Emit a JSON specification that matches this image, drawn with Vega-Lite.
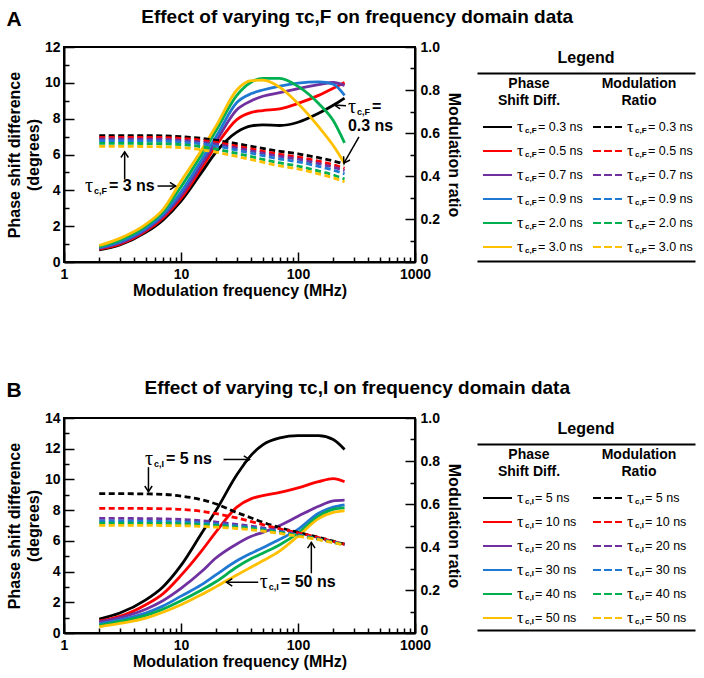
{
  "$schema": "https://vega.github.io/schema/vega-lite/v6.json",
  "padding": {"left": 5, "top": 8, "right": 5, "bottom": 5},
  "config": {
    "font": "Liberation Sans",
    "view": {"stroke": "black", "strokeWidth": 2},
    "axis": {"domainColor": "black", "domainWidth": 2, "tickColor": "black", "tickWidth": 1.5, "labelColor": "black", "labelFont": "Liberation Sans", "labelFontSize": 14, "labelFontWeight": "bold", "titleColor": "black", "titleFont": "Liberation Sans", "titleFontSize": 16, "titleFontWeight": "bold", "grid": false, "labelOverlap": false, "labelFlush": false},
    "title": {"font": "Liberation Sans", "fontWeight": "bold", "color": "black"}
  },
  "datasets": {
    "curvesA": [
      {"tau":"0.3","f":2,"phase":0.68,"mod":0.588},{"tau":"0.3","f":3,"phase":0.95,"mod":0.588},{"tau":"0.3","f":5,"phase":1.65,"mod":0.5875},{"tau":"0.3","f":7,"phase":2.34,"mod":0.587},{"tau":"0.3","f":10,"phase":3.4,"mod":0.583},{"tau":"0.3","f":15,"phase":5.0,"mod":0.575},{"tau":"0.3","f":20,"phase":6.15,"mod":0.566},{"tau":"0.3","f":30,"phase":7.25,"mod":0.55},{"tau":"0.3","f":40,"phase":7.6,"mod":0.538},{"tau":"0.3","f":50,"phase":7.65,"mod":0.528},{"tau":"0.3","f":70,"phase":7.62,"mod":0.515},{"tau":"0.3","f":100,"phase":7.8,"mod":0.503},{"tau":"0.3","f":150,"phase":8.3,"mod":0.485},{"tau":"0.3","f":200,"phase":8.75,"mod":0.47},{"tau":"0.3","f":250,"phase":9.15,"mod":0.455},
      {"tau":"0.5","f":2,"phase":0.72,"mod":0.58},{"tau":"0.5","f":3,"phase":1.0,"mod":0.58},{"tau":"0.5","f":5,"phase":1.72,"mod":0.579},{"tau":"0.5","f":7,"phase":2.45,"mod":0.579},{"tau":"0.5","f":10,"phase":3.55,"mod":0.575},{"tau":"0.5","f":15,"phase":5.25,"mod":0.566},{"tau":"0.5","f":20,"phase":6.5,"mod":0.556},{"tau":"0.5","f":30,"phase":7.95,"mod":0.539},{"tau":"0.5","f":40,"phase":8.35,"mod":0.526},{"tau":"0.5","f":50,"phase":8.45,"mod":0.515},{"tau":"0.5","f":70,"phase":8.55,"mod":0.501},{"tau":"0.5","f":100,"phase":8.85,"mod":0.488},{"tau":"0.5","f":150,"phase":9.3,"mod":0.469},{"tau":"0.5","f":200,"phase":9.7,"mod":0.452},{"tau":"0.5","f":250,"phase":10.02,"mod":0.436},
      {"tau":"0.7","f":2,"phase":0.76,"mod":0.572},{"tau":"0.7","f":3,"phase":1.06,"mod":0.572},{"tau":"0.7","f":5,"phase":1.8,"mod":0.571},{"tau":"0.7","f":7,"phase":2.55,"mod":0.571},{"tau":"0.7","f":10,"phase":3.7,"mod":0.566},{"tau":"0.7","f":15,"phase":5.45,"mod":0.558},{"tau":"0.7","f":20,"phase":6.75,"mod":0.548},{"tau":"0.7","f":30,"phase":8.5,"mod":0.53},{"tau":"0.7","f":40,"phase":9.0,"mod":0.517},{"tau":"0.7","f":50,"phase":9.25,"mod":0.506},{"tau":"0.7","f":70,"phase":9.45,"mod":0.491},{"tau":"0.7","f":100,"phase":9.68,"mod":0.478},{"tau":"0.7","f":150,"phase":9.9,"mod":0.458},{"tau":"0.7","f":200,"phase":10.02,"mod":0.441},{"tau":"0.7","f":250,"phase":9.85,"mod":0.425},
      {"tau":"0.9","f":2,"phase":0.8,"mod":0.564},{"tau":"0.9","f":3,"phase":1.12,"mod":0.564},{"tau":"0.9","f":5,"phase":1.88,"mod":0.563},{"tau":"0.9","f":7,"phase":2.65,"mod":0.562},{"tau":"0.9","f":10,"phase":3.9,"mod":0.558},{"tau":"0.9","f":15,"phase":5.7,"mod":0.549},{"tau":"0.9","f":20,"phase":7.0,"mod":0.539},{"tau":"0.9","f":30,"phase":8.9,"mod":0.52},{"tau":"0.9","f":40,"phase":9.4,"mod":0.506},{"tau":"0.9","f":50,"phase":9.6,"mod":0.495},{"tau":"0.9","f":70,"phase":9.82,"mod":0.479},{"tau":"0.9","f":100,"phase":9.98,"mod":0.466},{"tau":"0.9","f":150,"phase":10.05,"mod":0.445},{"tau":"0.9","f":200,"phase":9.92,"mod":0.427},{"tau":"0.9","f":250,"phase":9.3,"mod":0.41},
      {"tau":"2.0","f":2,"phase":0.86,"mod":0.552},{"tau":"2.0","f":3,"phase":1.22,"mod":0.552},{"tau":"2.0","f":5,"phase":2.0,"mod":0.551},{"tau":"2.0","f":7,"phase":2.8,"mod":0.55},{"tau":"2.0","f":10,"phase":4.2,"mod":0.546},{"tau":"2.0","f":15,"phase":6.0,"mod":0.536},{"tau":"2.0","f":20,"phase":7.35,"mod":0.525},{"tau":"2.0","f":30,"phase":9.3,"mod":0.505},{"tau":"2.0","f":40,"phase":10.05,"mod":0.49},{"tau":"2.0","f":50,"phase":10.25,"mod":0.477},{"tau":"2.0","f":70,"phase":10.25,"mod":0.461},{"tau":"2.0","f":100,"phase":9.8,"mod":0.446},{"tau":"2.0","f":150,"phase":8.85,"mod":0.423},{"tau":"2.0","f":200,"phase":7.9,"mod":0.405},{"tau":"2.0","f":250,"phase":6.65,"mod":0.386},
      {"tau":"3.0","f":2,"phase":0.92,"mod":0.538},{"tau":"3.0","f":3,"phase":1.32,"mod":0.538},{"tau":"3.0","f":5,"phase":2.1,"mod":0.537},{"tau":"3.0","f":7,"phase":2.92,"mod":0.536},{"tau":"3.0","f":10,"phase":4.5,"mod":0.532},{"tau":"3.0","f":15,"phase":6.25,"mod":0.522},{"tau":"3.0","f":20,"phase":7.6,"mod":0.511},{"tau":"3.0","f":30,"phase":9.6,"mod":0.491},{"tau":"3.0","f":40,"phase":10.12,"mod":0.476},{"tau":"3.0","f":50,"phase":10.15,"mod":0.464},{"tau":"3.0","f":70,"phase":9.75,"mod":0.447},{"tau":"3.0","f":100,"phase":8.85,"mod":0.433},{"tau":"3.0","f":150,"phase":7.55,"mod":0.41},{"tau":"3.0","f":200,"phase":6.5,"mod":0.392},{"tau":"3.0","f":250,"phase":5.5,"mod":0.373}
    ],
    "curvesB": [
      {"tau":"5","f":2,"phase":0.91,"mod":0.648},{"tau":"5","f":3,"phase":1.3,"mod":0.648},{"tau":"5","f":5,"phase":2.16,"mod":0.647},{"tau":"5","f":7,"phase":3.0,"mod":0.645},{"tau":"5","f":10,"phase":4.4,"mod":0.637},{"tau":"5","f":15,"phase":6.5,"mod":0.62},{"tau":"5","f":20,"phase":8.0,"mod":0.6},{"tau":"5","f":30,"phase":10.3,"mod":0.56},{"tau":"5","f":40,"phase":11.6,"mod":0.535},{"tau":"5","f":50,"phase":12.25,"mod":0.515},{"tau":"5","f":70,"phase":12.7,"mod":0.49},{"tau":"5","f":100,"phase":12.85,"mod":0.468},{"tau":"5","f":150,"phase":12.85,"mod":0.445},{"tau":"5","f":200,"phase":12.6,"mod":0.427},{"tau":"5","f":250,"phase":11.95,"mod":0.413},
      {"tau":"10","f":2,"phase":0.78,"mod":0.58},{"tau":"10","f":3,"phase":1.08,"mod":0.58},{"tau":"10","f":5,"phase":1.84,"mod":0.579},{"tau":"10","f":7,"phase":2.55,"mod":0.578},{"tau":"10","f":10,"phase":3.75,"mod":0.575},{"tau":"10","f":15,"phase":5.35,"mod":0.566},{"tau":"10","f":20,"phase":6.6,"mod":0.555},{"tau":"10","f":30,"phase":8.2,"mod":0.535},{"tau":"10","f":40,"phase":8.75,"mod":0.518},{"tau":"10","f":50,"phase":8.95,"mod":0.504},{"tau":"10","f":70,"phase":9.15,"mod":0.484},{"tau":"10","f":100,"phase":9.45,"mod":0.466},{"tau":"10","f":150,"phase":9.85,"mod":0.444},{"tau":"10","f":200,"phase":10.05,"mod":0.426},{"tau":"10","f":250,"phase":9.85,"mod":0.413},
      {"tau":"20","f":2,"phase":0.72,"mod":0.533},{"tau":"20","f":3,"phase":1.0,"mod":0.533},{"tau":"20","f":5,"phase":1.55,"mod":0.532},{"tau":"20","f":7,"phase":2.1,"mod":0.531},{"tau":"20","f":10,"phase":2.9,"mod":0.528},{"tau":"20","f":15,"phase":4.0,"mod":0.522},{"tau":"20","f":20,"phase":4.9,"mod":0.516},{"tau":"20","f":30,"phase":5.8,"mod":0.505},{"tau":"20","f":40,"phase":6.3,"mod":0.497},{"tau":"20","f":50,"phase":6.55,"mod":0.489},{"tau":"20","f":70,"phase":7.0,"mod":0.474},{"tau":"20","f":100,"phase":7.6,"mod":0.458},{"tau":"20","f":150,"phase":8.25,"mod":0.438},{"tau":"20","f":200,"phase":8.6,"mod":0.423},{"tau":"20","f":250,"phase":8.65,"mod":0.411},
      {"tau":"30","f":2,"phase":0.6,"mod":0.521},{"tau":"30","f":3,"phase":0.85,"mod":0.521},{"tau":"30","f":5,"phase":1.3,"mod":0.52},{"tau":"30","f":7,"phase":1.75,"mod":0.519},{"tau":"30","f":10,"phase":2.4,"mod":0.517},{"tau":"30","f":15,"phase":3.15,"mod":0.512},{"tau":"30","f":20,"phase":3.8,"mod":0.507},{"tau":"30","f":30,"phase":4.7,"mod":0.498},{"tau":"30","f":40,"phase":5.2,"mod":0.491},{"tau":"30","f":50,"phase":5.55,"mod":0.484},{"tau":"30","f":70,"phase":6.1,"mod":0.47},{"tau":"30","f":100,"phase":6.75,"mod":0.455},{"tau":"30","f":150,"phase":7.8,"mod":0.437},{"tau":"30","f":200,"phase":8.2,"mod":0.422},{"tau":"30","f":250,"phase":8.35,"mod":0.411},
      {"tau":"40","f":2,"phase":0.5,"mod":0.511},{"tau":"40","f":3,"phase":0.75,"mod":0.511},{"tau":"40","f":5,"phase":1.15,"mod":0.51},{"tau":"40","f":7,"phase":1.55,"mod":0.51},{"tau":"40","f":10,"phase":2.1,"mod":0.508},{"tau":"40","f":15,"phase":2.8,"mod":0.504},{"tau":"40","f":20,"phase":3.35,"mod":0.5},{"tau":"40","f":30,"phase":4.3,"mod":0.492},{"tau":"40","f":40,"phase":4.85,"mod":0.486},{"tau":"40","f":50,"phase":5.2,"mod":0.479},{"tau":"40","f":70,"phase":5.75,"mod":0.467},{"tau":"40","f":100,"phase":6.5,"mod":0.453},{"tau":"40","f":150,"phase":7.6,"mod":0.436},{"tau":"40","f":200,"phase":8.05,"mod":0.421},{"tau":"40","f":250,"phase":8.15,"mod":0.41},
      {"tau":"50","f":2,"phase":0.4,"mod":0.501},{"tau":"50","f":3,"phase":0.62,"mod":0.501},{"tau":"50","f":5,"phase":0.97,"mod":0.501},{"tau":"50","f":7,"phase":1.35,"mod":0.5},{"tau":"50","f":10,"phase":1.84,"mod":0.499},{"tau":"50","f":15,"phase":2.5,"mod":0.496},{"tau":"50","f":20,"phase":3.02,"mod":0.492},{"tau":"50","f":30,"phase":3.78,"mod":0.486},{"tau":"50","f":40,"phase":4.3,"mod":0.48},{"tau":"50","f":50,"phase":4.7,"mod":0.474},{"tau":"50","f":70,"phase":5.35,"mod":0.463},{"tau":"50","f":100,"phase":6.3,"mod":0.45},{"tau":"50","f":150,"phase":7.45,"mod":0.434},{"tau":"50","f":200,"phase":7.85,"mod":0.42},{"tau":"50","f":250,"phase":7.95,"mod":0.409}
    ],
    "annot": [
      {"panel":"A","f":1.51,"y":4.24,"tau":"τ","sub":"c,F","rest":"= 3 ns"},
      {"panel":"A","f":267,"y":8.65,"tau":"τ","sub":"c,F","rest":"="},
      {"panel":"A","f":267,"y":7.6,"plain":"0.3 ns"},
      {"panel":"B","f":4.93,"y":11.34,"tau":"τ","sub":"c,I","rest":"= 5 ns"},
      {"panel":"B","f":47.2,"y":3.3,"tau":"τ","sub":"c,I","rest":"= 50 ns"}
    ],
    "arrows": [
      {"panel":"A","f1":6.3,"y1":4.24,"f2":9.0,"y2":4.24,"dir":"right"},
      {"panel":"A","f1":3.3,"y1":4.6,"f2":3.3,"y2":6.15,"dir":"up"},
      {"panel":"A","f1":257,"y1":8.72,"f2":205,"y2":8.76,"dir":"left"},
      {"panel":"A","f1":332,"y1":6.98,"f2":247,"y2":5.52,"dir":"downleft"},
      {"panel":"B","f1":23.1,"y1":11.3,"f2":38.5,"y2":11.3,"dir":"right"},
      {"panel":"B","f1":5.27,"y1":10.8,"f2":5.27,"y2":9.2,"dir":"down"},
      {"panel":"B","f1":45.7,"y1":3.3,"f2":24.5,"y2":3.3,"dir":"left"},
      {"panel":"B","f1":130,"y1":3.89,"f2":130,"y2":5.9,"dir":"up"}
    ],
    "legHead": [
      {"col":0,"row":-0.79,"head":["Phase","Shift Diff."]},
      {"col":1,"row":-0.79,"head":["Modulation","Ratio"]}
    ],
    "legA": [
      {"tau":"0.3","col":0,"row":1,"label":"= 0.3 ns"},{"tau":"0.3","col":1,"row":1,"label":"= 0.3 ns"},
      {"tau":"0.5","col":0,"row":2,"label":"= 0.5 ns"},{"tau":"0.5","col":1,"row":2,"label":"= 0.5 ns"},
      {"tau":"0.7","col":0,"row":3,"label":"= 0.7 ns"},{"tau":"0.7","col":1,"row":3,"label":"= 0.7 ns"},
      {"tau":"0.9","col":0,"row":4,"label":"= 0.9 ns"},{"tau":"0.9","col":1,"row":4,"label":"= 0.9 ns"},
      {"tau":"2.0","col":0,"row":5,"label":"= 2.0 ns"},{"tau":"2.0","col":1,"row":5,"label":"= 2.0 ns"},
      {"tau":"3.0","col":0,"row":6,"label":"= 3.0 ns"},{"tau":"3.0","col":1,"row":6,"label":"= 3.0 ns"}
    ],
    "legB": [
      {"tau":"5","col":0,"row":1,"label":"= 5 ns"},{"tau":"5","col":1,"row":1,"label":"= 5 ns"},
      {"tau":"10","col":0,"row":2,"label":"= 10 ns"},{"tau":"10","col":1,"row":2,"label":"= 10 ns"},
      {"tau":"20","col":0,"row":3,"label":"= 20 ns"},{"tau":"20","col":1,"row":3,"label":"= 20 ns"},
      {"tau":"30","col":0,"row":4,"label":"= 30 ns"},{"tau":"30","col":1,"row":4,"label":"= 30 ns"},
      {"tau":"40","col":0,"row":5,"label":"= 40 ns"},{"tau":"40","col":1,"row":5,"label":"= 40 ns"},
      {"tau":"50","col":0,"row":6,"label":"= 50 ns"},{"tau":"50","col":1,"row":6,"label":"= 50 ns"}
    ]
  },
  "resolve": {"scale": {"color": "independent"}},
  "spacing": 80,
  "vconcat": [
    {
      "title": {"text": "Effect of varying τc,F on frequency domain data", "fontSize": 19, "anchor": "middle", "offset": 0, "dx": 7, "dy": 19},
      "spacing": 14,
      "hconcat": [
        {
          "width": 351, "height": 215,
          "title": {"text": "A", "anchor": "start", "fontSize": 21, "offset": 10},
          "layer": [
            {
              "data": {"name": "curvesA"},
              "mark": {"type": "line", "strokeWidth": 2.8, "interpolate": "monotone"},
              "encoding": {
                "x": {"field": "f", "type": "quantitative", "scale": {"type": "log", "domain": [1, 1000]},
                  "axis": {"values": [1,2,3,4,5,6,7,8,9,10,20,30,40,50,60,70,80,90,100,200,300,400,500,600,700,800,900,1000],
                    "labelExpr": "indexof([1,10,100,1000], datum.value) >= 0 ? format(datum.value, 'd') : ''",
                    "tickSize": {"condition": {"test": "indexof([1,10,100,1000], datum.value) >= 0", "value": -10}, "value": -5},
                    "labelPadding": 15, "title": "Modulation frequency (MHz)", "titlePadding": -4}},
                "y": {"field": "phase", "type": "quantitative", "scale": {"domain": [0, 12]},
                  "axis": {"values": [0,1,2,3,4,5,6,7,8,9,10,11,12],
                    "labelExpr": "datum.value % 2 == 0 ? datum.label : ''",
                    "tickSize": {"condition": {"test": "datum.value % 2 == 0", "value": -10}, "value": -5},
                    "labelPadding": 14, "title": ["Phase shift difference", "(degrees)"], "titlePadding": 3, "titleLineHeight": 19}},
                "color": {"field": "tau", "type": "nominal", "scale": {"domain": ["0.3","0.5","0.7","0.9","2.0","3.0"], "range": ["#000000","#ff0000","#7030a0","#1f78d2","#00b050","#ffc000"]}, "legend": null}
              }
            },
            {
              "data": {"name": "curvesA"},
              "mark": {"type": "line", "strokeWidth": 2.8, "strokeDash": [6, 3.5], "interpolate": "monotone"},
              "encoding": {
                "x": {"field": "f", "type": "quantitative", "scale": {"type": "log", "domain": [1, 1000]}},
                "y": {"field": "mod", "type": "quantitative", "scale": {"domain": [0, 1]},
                  "axis": {"orient": "right", "values": [0,0.1,0.2,0.3,0.4,0.5,0.6,0.7,0.8,0.9,1.0],
                    "labelExpr": "datum.value == 0 ? '0' : (round(datum.value*10) % 2 == 0 ? format(datum.value, '.1f') : '')",
                    "tickSize": {"condition": {"test": "round(datum.value*10) % 2 == 0", "value": -10}, "value": -5},
                    "labelOffset": {"condition": {"test": "datum.value == 0", "value": -3}, "value": 0},
                    "labelPadding": 15, "title": "Modulation ratio", "titlePadding": 6}},
                "color": {"field": "tau", "type": "nominal", "scale": {"domain": ["0.3","0.5","0.7","0.9","2.0","3.0"], "range": ["#000000","#ff0000","#7030a0","#1f78d2","#00b050","#ffc000"]}, "legend": null}
              }
            },
            {
              "data": {"name": "arrows"},
              "transform": [{"filter": "datum.panel == 'A'"}],
              "mark": {"type": "rule", "strokeWidth": 1.5, "color": "black"},
              "encoding": {
                "x": {"field": "f1", "type": "quantitative", "scale": {"type": "log", "domain": [1, 1000]}},
                "x2": {"field": "f2"},
                "y": {"field": "y1", "type": "quantitative", "scale": {"domain": [0, 12]}, "axis": null},
                "y2": {"field": "y2"}
              }
            },
            {
              "data": {"name": "arrows"},
              "transform": [{"filter": "datum.panel == 'A' && datum.dir == 'right'"}],
              "mark": {"type": "point", "shape": "M-1,-0.65L0,0L-1,0.65", "filled": false, "stroke": "black", "strokeWidth": 1.5, "size": 130, "angle": 0, "opacity": 1},
              "encoding": {"x": {"field": "f2", "type": "quantitative", "scale": {"type": "log", "domain": [1, 1000]}}, "y": {"field": "y2", "type": "quantitative", "scale": {"domain": [0, 12]}, "axis": null}}
            },
            {
              "data": {"name": "arrows"},
              "transform": [{"filter": "datum.panel == 'A' && datum.dir == 'up'"}],
              "mark": {"type": "point", "shape": "M-1,-0.65L0,0L-1,0.65", "filled": false, "stroke": "black", "strokeWidth": 1.5, "size": 130, "angle": 270, "opacity": 1},
              "encoding": {"x": {"field": "f2", "type": "quantitative", "scale": {"type": "log", "domain": [1, 1000]}}, "y": {"field": "y2", "type": "quantitative", "scale": {"domain": [0, 12]}, "axis": null}}
            },
            {
              "data": {"name": "arrows"},
              "transform": [{"filter": "datum.panel == 'A' && datum.dir == 'left'"}],
              "mark": {"type": "point", "shape": "M-1,-0.65L0,0L-1,0.65", "filled": false, "stroke": "black", "strokeWidth": 1.5, "size": 130, "angle": 180, "opacity": 1},
              "encoding": {"x": {"field": "f2", "type": "quantitative", "scale": {"type": "log", "domain": [1, 1000]}}, "y": {"field": "y2", "type": "quantitative", "scale": {"domain": [0, 12]}, "axis": null}}
            },
            {
              "data": {"name": "arrows"},
              "transform": [{"filter": "datum.panel == 'A' && datum.dir == 'downleft'"}],
              "mark": {"type": "point", "shape": "M-1,-0.65L0,0L-1,0.65", "filled": false, "stroke": "black", "strokeWidth": 1.5, "size": 130, "angle": 120, "opacity": 1},
              "encoding": {"x": {"field": "f2", "type": "quantitative", "scale": {"type": "log", "domain": [1, 1000]}}, "y": {"field": "y2", "type": "quantitative", "scale": {"domain": [0, 12]}, "axis": null}}
            },
            {
              "data": {"name": "annot"},
              "transform": [{"filter": "datum.panel == 'A' && isValid(datum.tau)"}],
              "mark": {"type": "text", "font": "Liberation Serif", "fontSize": 20, "align": "left", "baseline": "middle", "color": "black"},
              "encoding": {"x": {"field": "f", "type": "quantitative", "scale": {"type": "log", "domain": [1, 1000]}}, "y": {"field": "y", "type": "quantitative", "scale": {"domain": [0, 12]}, "axis": null}, "text": {"field": "tau"}}
            },
            {
              "data": {"name": "annot"},
              "transform": [{"filter": "datum.panel == 'A' && isValid(datum.sub)"}],
              "mark": {"type": "text", "fontSize": 9, "fontWeight": "bold", "align": "left", "baseline": "middle", "dx": 9, "dy": 5, "color": "black"},
              "encoding": {"x": {"field": "f", "type": "quantitative", "scale": {"type": "log", "domain": [1, 1000]}}, "y": {"field": "y", "type": "quantitative", "scale": {"domain": [0, 12]}, "axis": null}, "text": {"field": "sub"}}
            },
            {
              "data": {"name": "annot"},
              "transform": [{"filter": "datum.panel == 'A' && isValid(datum.rest)"}],
              "mark": {"type": "text", "fontSize": 16, "fontWeight": "bold", "align": "left", "baseline": "middle", "dx": 24, "color": "black"},
              "encoding": {"x": {"field": "f", "type": "quantitative", "scale": {"type": "log", "domain": [1, 1000]}}, "y": {"field": "y", "type": "quantitative", "scale": {"domain": [0, 12]}, "axis": null}, "text": {"field": "rest"}}
            },
            {
              "data": {"name": "annot"},
              "transform": [{"filter": "datum.panel == 'A' && isValid(datum.plain)"}],
              "mark": {"type": "text", "fontSize": 16, "fontWeight": "bold", "align": "left", "baseline": "middle", "color": "black"},
              "encoding": {"x": {"field": "f", "type": "quantitative", "scale": {"type": "log", "domain": [1, 1000]}}, "y": {"field": "y", "type": "quantitative", "scale": {"domain": [0, 12]}, "axis": null}, "text": {"field": "plain"}}
            }
          ],
          "resolve": {"scale": {"y": "independent"}}
        },
        {
          "width": 218, "height": 215,
          "view": {"stroke": null},
          "title": {"text": "Legend", "fontSize": 16, "offset": -19},
          "layer": [
            {
              "data": {"name": "legA"},
              "transform": [{"filter": "datum.col == 0"}],
              "mark": {"type": "rule", "strokeWidth": 2, "x2Offset": 29},
              "encoding": {
                "x": {"field": "col", "type": "quantitative", "scale": {"domain": [-0.0545, 1.9273]}, "axis": {"orient": "top", "offset": -26, "domain": true, "ticks": false, "labels": false, "title": null}},
                "x2": {"field": "col"},
                "y": {"field": "row", "type": "quantitative", "scale": {"domain": [-2.333, 6.625], "reverse": true}, "axis": null},
                "color": {"field": "tau", "type": "nominal", "scale": {"domain": ["0.3","0.5","0.7","0.9","2.0","3.0"], "range": ["#000000","#ff0000","#7030a0","#1f78d2","#00b050","#ffc000"]}, "legend": null}
              }
            },
            {
              "data": {"name": "legA"},
              "transform": [{"filter": "datum.col == 1"}],
              "mark": {"type": "rule", "strokeWidth": 2, "x2Offset": 29, "strokeDash": [8, 3]},
              "encoding": {
                "x": {"field": "col", "type": "quantitative", "scale": {"domain": [-0.0545, 1.9273]}, "axis": {"orient": "bottom", "offset": -1, "domain": true, "ticks": false, "labels": false, "title": null}},
                "x2": {"field": "col"},
                "y": {"field": "row", "type": "quantitative", "scale": {"domain": [-2.333, 6.625], "reverse": true}, "axis": null},
                "color": {"field": "tau", "type": "nominal", "scale": {"domain": ["0.3","0.5","0.7","0.9","2.0","3.0"], "range": ["#000000","#ff0000","#7030a0","#1f78d2","#00b050","#ffc000"]}, "legend": null}
              }
            },
            {
              "data": {"name": "legA"},
              "mark": {"type": "text", "font": "Liberation Serif", "fontSize": 16, "align": "left", "baseline": "middle", "dx": 34, "color": "black"},
              "encoding": {
                "x": {"field": "col", "type": "quantitative", "scale": {"domain": [-0.0545, 1.9273]}, "axis": null},
                "y": {"field": "row", "type": "quantitative", "scale": {"domain": [-2.333, 6.625], "reverse": true}, "axis": null},
                "text": {"value": "τ"}
              }
            },
            {
              "data": {"name": "legA"},
              "mark": {"type": "text", "fontSize": 8, "fontWeight": "bold", "align": "left", "baseline": "middle", "dx": 42, "dy": 4, "color": "black"},
              "encoding": {
                "x": {"field": "col", "type": "quantitative", "scale": {"domain": [-0.0545, 1.9273]}, "axis": null},
                "y": {"field": "row", "type": "quantitative", "scale": {"domain": [-2.333, 6.625], "reverse": true}, "axis": null},
                "text": {"value": "c,F"}
              }
            },
            {
              "data": {"name": "legA"},
              "mark": {"type": "text", "fontSize": 12.5, "align": "left", "baseline": "middle", "dx": 55, "color": "black"},
              "encoding": {
                "x": {"field": "col", "type": "quantitative", "scale": {"domain": [-0.0545, 1.9273]}, "axis": null},
                "y": {"field": "row", "type": "quantitative", "scale": {"domain": [-2.333, 6.625], "reverse": true}, "axis": null},
                "text": {"field": "label"}
              }
            },
            {
              "data": {"name": "legHead"},
              "mark": {"type": "text", "fontSize": 14, "fontWeight": "bold", "align": "center", "baseline": "middle", "dx": 46, "lineHeight": 16.5, "color": "black"},
              "encoding": {
                "x": {"field": "col", "type": "quantitative", "scale": {"domain": [-0.0545, 1.9273]}, "axis": null},
                "y": {"field": "row", "type": "quantitative", "scale": {"domain": [-2.333, 6.625], "reverse": true}, "axis": null},
                "text": {"field": "head"}
              }
            }
          ],
          "resolve": {"scale": {"x": "independent"}}
        }
      ]
    },
    {
      "title": {"text": "Effect of varying τc,I on frequency domain data", "fontSize": 19, "anchor": "middle", "offset": 0, "dx": 7, "dy": 19},
      "spacing": 14,
      "hconcat": [
        {
          "width": 351, "height": 215,
          "title": {"text": "B", "anchor": "start", "fontSize": 21, "offset": 10},
          "layer": [
            {
              "data": {"name": "curvesB"},
              "mark": {"type": "line", "strokeWidth": 2.8, "interpolate": "monotone"},
              "encoding": {
                "x": {"field": "f", "type": "quantitative", "scale": {"type": "log", "domain": [1, 1000]},
                  "axis": {"values": [1,2,3,4,5,6,7,8,9,10,20,30,40,50,60,70,80,90,100,200,300,400,500,600,700,800,900,1000],
                    "labelExpr": "indexof([1,10,100,1000], datum.value) >= 0 ? format(datum.value, 'd') : ''",
                    "tickSize": {"condition": {"test": "indexof([1,10,100,1000], datum.value) >= 0", "value": -10}, "value": -5},
                    "labelPadding": 15, "title": "Modulation frequency (MHz)", "titlePadding": -4}},
                "y": {"field": "phase", "type": "quantitative", "scale": {"domain": [0, 14]},
                  "axis": {"values": [0,1,2,3,4,5,6,7,8,9,10,11,12,13,14],
                    "labelExpr": "datum.value % 2 == 0 ? datum.label : ''",
                    "tickSize": {"condition": {"test": "datum.value % 2 == 0", "value": -10}, "value": -5},
                    "labelPadding": 14, "title": ["Phase shift difference", "(degrees)"], "titlePadding": 3, "titleLineHeight": 19}},
                "color": {"field": "tau", "type": "nominal", "scale": {"domain": ["5","10","20","30","40","50"], "range": ["#000000","#ff0000","#7030a0","#1f78d2","#00b050","#ffc000"]}, "legend": null}
              }
            },
            {
              "data": {"name": "curvesB"},
              "mark": {"type": "line", "strokeWidth": 2.8, "strokeDash": [6, 3.5], "interpolate": "monotone"},
              "encoding": {
                "x": {"field": "f", "type": "quantitative", "scale": {"type": "log", "domain": [1, 1000]}},
                "y": {"field": "mod", "type": "quantitative", "scale": {"domain": [0, 1]},
                  "axis": {"orient": "right", "values": [0,0.1,0.2,0.3,0.4,0.5,0.6,0.7,0.8,0.9,1.0],
                    "labelExpr": "datum.value == 0 ? '0' : (round(datum.value*10) % 2 == 0 ? format(datum.value, '.1f') : '')",
                    "tickSize": {"condition": {"test": "round(datum.value*10) % 2 == 0", "value": -10}, "value": -5},
                    "labelOffset": {"condition": {"test": "datum.value == 0", "value": -3}, "value": 0},
                    "labelPadding": 15, "title": "Modulation ratio", "titlePadding": 6}},
                "color": {"field": "tau", "type": "nominal", "scale": {"domain": ["5","10","20","30","40","50"], "range": ["#000000","#ff0000","#7030a0","#1f78d2","#00b050","#ffc000"]}, "legend": null}
              }
            },
            {
              "data": {"name": "arrows"},
              "transform": [{"filter": "datum.panel == 'B'"}],
              "mark": {"type": "rule", "strokeWidth": 1.5, "color": "black"},
              "encoding": {
                "x": {"field": "f1", "type": "quantitative", "scale": {"type": "log", "domain": [1, 1000]}},
                "x2": {"field": "f2"},
                "y": {"field": "y1", "type": "quantitative", "scale": {"domain": [0, 14]}, "axis": null},
                "y2": {"field": "y2"}
              }
            },
            {
              "data": {"name": "arrows"},
              "transform": [{"filter": "datum.panel == 'B' && datum.dir == 'right'"}],
              "mark": {"type": "point", "shape": "M-1,-0.65L0,0L-1,0.65", "filled": false, "stroke": "black", "strokeWidth": 1.5, "size": 130, "angle": 0, "opacity": 1},
              "encoding": {"x": {"field": "f2", "type": "quantitative", "scale": {"type": "log", "domain": [1, 1000]}}, "y": {"field": "y2", "type": "quantitative", "scale": {"domain": [0, 14]}, "axis": null}}
            },
            {
              "data": {"name": "arrows"},
              "transform": [{"filter": "datum.panel == 'B' && datum.dir == 'up'"}],
              "mark": {"type": "point", "shape": "M-1,-0.65L0,0L-1,0.65", "filled": false, "stroke": "black", "strokeWidth": 1.5, "size": 130, "angle": 270, "opacity": 1},
              "encoding": {"x": {"field": "f2", "type": "quantitative", "scale": {"type": "log", "domain": [1, 1000]}}, "y": {"field": "y2", "type": "quantitative", "scale": {"domain": [0, 14]}, "axis": null}}
            },
            {
              "data": {"name": "arrows"},
              "transform": [{"filter": "datum.panel == 'B' && datum.dir == 'left'"}],
              "mark": {"type": "point", "shape": "M-1,-0.65L0,0L-1,0.65", "filled": false, "stroke": "black", "strokeWidth": 1.5, "size": 130, "angle": 180, "opacity": 1},
              "encoding": {"x": {"field": "f2", "type": "quantitative", "scale": {"type": "log", "domain": [1, 1000]}}, "y": {"field": "y2", "type": "quantitative", "scale": {"domain": [0, 14]}, "axis": null}}
            },
            {
              "data": {"name": "arrows"},
              "transform": [{"filter": "datum.panel == 'B' && datum.dir == 'down'"}],
              "mark": {"type": "point", "shape": "M-1,-0.65L0,0L-1,0.65", "filled": false, "stroke": "black", "strokeWidth": 1.5, "size": 130, "angle": 90, "opacity": 1},
              "encoding": {"x": {"field": "f2", "type": "quantitative", "scale": {"type": "log", "domain": [1, 1000]}}, "y": {"field": "y2", "type": "quantitative", "scale": {"domain": [0, 14]}, "axis": null}}
            },
            {
              "data": {"name": "annot"},
              "transform": [{"filter": "datum.panel == 'B' && isValid(datum.tau)"}],
              "mark": {"type": "text", "font": "Liberation Serif", "fontSize": 20, "align": "left", "baseline": "middle", "color": "black"},
              "encoding": {"x": {"field": "f", "type": "quantitative", "scale": {"type": "log", "domain": [1, 1000]}}, "y": {"field": "y", "type": "quantitative", "scale": {"domain": [0, 14]}, "axis": null}, "text": {"field": "tau"}}
            },
            {
              "data": {"name": "annot"},
              "transform": [{"filter": "datum.panel == 'B' && isValid(datum.sub)"}],
              "mark": {"type": "text", "fontSize": 9, "fontWeight": "bold", "align": "left", "baseline": "middle", "dx": 9, "dy": 5, "color": "black"},
              "encoding": {"x": {"field": "f", "type": "quantitative", "scale": {"type": "log", "domain": [1, 1000]}}, "y": {"field": "y", "type": "quantitative", "scale": {"domain": [0, 14]}, "axis": null}, "text": {"field": "sub"}}
            },
            {
              "data": {"name": "annot"},
              "transform": [{"filter": "datum.panel == 'B' && isValid(datum.rest)"}],
              "mark": {"type": "text", "fontSize": 16, "fontWeight": "bold", "align": "left", "baseline": "middle", "dx": 21, "color": "black"},
              "encoding": {"x": {"field": "f", "type": "quantitative", "scale": {"type": "log", "domain": [1, 1000]}}, "y": {"field": "y", "type": "quantitative", "scale": {"domain": [0, 14]}, "axis": null}, "text": {"field": "rest"}}
            }
          ],
          "resolve": {"scale": {"y": "independent"}}
        },
        {
          "width": 218, "height": 215,
          "view": {"stroke": null},
          "title": {"text": "Legend", "fontSize": 16, "offset": -19},
          "layer": [
            {
              "data": {"name": "legB"},
              "transform": [{"filter": "datum.col == 0"}],
              "mark": {"type": "rule", "strokeWidth": 2, "x2Offset": 29},
              "encoding": {
                "x": {"field": "col", "type": "quantitative", "scale": {"domain": [-0.0545, 1.9273]}, "axis": {"orient": "top", "offset": -26, "domain": true, "ticks": false, "labels": false, "title": null}},
                "x2": {"field": "col"},
                "y": {"field": "row", "type": "quantitative", "scale": {"domain": [-2.333, 6.625], "reverse": true}, "axis": null},
                "color": {"field": "tau", "type": "nominal", "scale": {"domain": ["5","10","20","30","40","50"], "range": ["#000000","#ff0000","#7030a0","#1f78d2","#00b050","#ffc000"]}, "legend": null}
              }
            },
            {
              "data": {"name": "legB"},
              "transform": [{"filter": "datum.col == 1"}],
              "mark": {"type": "rule", "strokeWidth": 2, "x2Offset": 29, "strokeDash": [8, 3]},
              "encoding": {
                "x": {"field": "col", "type": "quantitative", "scale": {"domain": [-0.0545, 1.9273]}, "axis": {"orient": "bottom", "offset": -3, "domain": true, "ticks": false, "labels": false, "title": null}},
                "x2": {"field": "col"},
                "y": {"field": "row", "type": "quantitative", "scale": {"domain": [-2.333, 6.625], "reverse": true}, "axis": null},
                "color": {"field": "tau", "type": "nominal", "scale": {"domain": ["5","10","20","30","40","50"], "range": ["#000000","#ff0000","#7030a0","#1f78d2","#00b050","#ffc000"]}, "legend": null}
              }
            },
            {
              "data": {"name": "legB"},
              "mark": {"type": "text", "font": "Liberation Serif", "fontSize": 16, "align": "left", "baseline": "middle", "dx": 34, "color": "black"},
              "encoding": {
                "x": {"field": "col", "type": "quantitative", "scale": {"domain": [-0.0545, 1.9273]}, "axis": null},
                "y": {"field": "row", "type": "quantitative", "scale": {"domain": [-2.333, 6.625], "reverse": true}, "axis": null},
                "text": {"value": "τ"}
              }
            },
            {
              "data": {"name": "legB"},
              "mark": {"type": "text", "fontSize": 8, "fontWeight": "bold", "align": "left", "baseline": "middle", "dx": 42, "dy": 4, "color": "black"},
              "encoding": {
                "x": {"field": "col", "type": "quantitative", "scale": {"domain": [-0.0545, 1.9273]}, "axis": null},
                "y": {"field": "row", "type": "quantitative", "scale": {"domain": [-2.333, 6.625], "reverse": true}, "axis": null},
                "text": {"value": "c,I"}
              }
            },
            {
              "data": {"name": "legB"},
              "mark": {"type": "text", "fontSize": 12.5, "align": "left", "baseline": "middle", "dx": 52, "color": "black"},
              "encoding": {
                "x": {"field": "col", "type": "quantitative", "scale": {"domain": [-0.0545, 1.9273]}, "axis": null},
                "y": {"field": "row", "type": "quantitative", "scale": {"domain": [-2.333, 6.625], "reverse": true}, "axis": null},
                "text": {"field": "label"}
              }
            },
            {
              "data": {"name": "legHead"},
              "mark": {"type": "text", "fontSize": 14, "fontWeight": "bold", "align": "center", "baseline": "middle", "dx": 46, "lineHeight": 16.5, "color": "black"},
              "encoding": {
                "x": {"field": "col", "type": "quantitative", "scale": {"domain": [-0.0545, 1.9273]}, "axis": null},
                "y": {"field": "row", "type": "quantitative", "scale": {"domain": [-2.333, 6.625], "reverse": true}, "axis": null},
                "text": {"field": "head"}
              }
            }
          ],
          "resolve": {"scale": {"x": "independent"}}
        }
      ]
    }
  ]
}
